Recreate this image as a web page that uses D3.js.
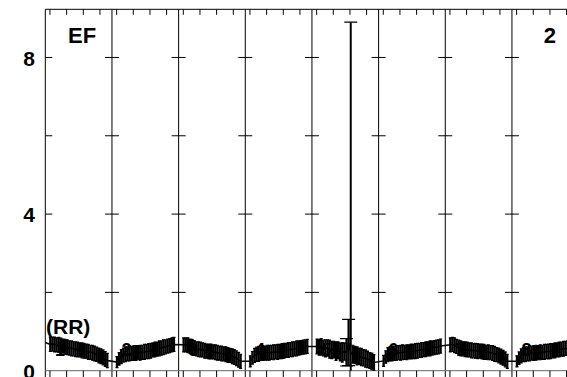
<!DOCTYPE html>
<html><head><meta charset="utf-8">
<script src="https://cdn.jsdelivr.net/npm/d3@7"></script>
<style>html,body{margin:0;padding:0;background:#fff;}svg{display:block;}</style>
</head><body>
<svg id="c" width="567" height="377"></svg>
<script>
// ---- data ----
const segmentLabels = ["1","2","3","4","5","6","7","8"];
const phase = [0.075,0.107,0.139,0.170,0.202,0.234,0.265,0.297,0.329,0.360,0.392,0.424,0.455,0.487,0.519,0.550,0.582,0.614,0.645,0.677,0.709,0.740,0.772,0.804,0.835,0.867,0.899,0.930];
const seg1 = [0.67,0.68,0.67,0.66,0.66,0.64,0.63,0.61,0.60,0.58,0.57,0.56,0.55,0.54,0.53,0.52,0.51,0.50,0.48,0.47,0.46,0.44,0.42,0.39,0.37,0.34,0.30,0.26];
const seg2 = [0.22,0.30,0.36,0.40,0.42,0.43,0.44,0.44,0.45,0.45,0.46,0.46,0.47,0.48,0.49,0.50,0.51,0.53,0.54,0.55,0.57,0.58,0.60,0.61,0.63,0.64,0.66,0.67];
const seg3 = [0.66,0.66,0.65,0.63,0.61,0.58,0.56,0.55,0.54,0.53,0.51,0.50,0.49,0.49,0.48,0.47,0.46,0.45,0.44,0.43,0.42,0.40,0.39,0.37,0.35,0.32,0.28,0.24];
const seg4 = [0.24,0.33,0.39,0.42,0.43,0.44,0.45,0.45,0.46,0.46,0.47,0.47,0.48,0.48,0.49,0.50,0.51,0.52,0.53,0.54,0.55,0.56,0.57,0.58,0.59,0.60,0.61,0.62];
const seg5 = [0.62,0.60,0.61,0.58,0.57,0.58,0.55,0.53,0.54,0.50,0.52,0.48,0.47,0.49,0.47,0.72,0.45,0.42,0.40,0.38,0.37,0.35,0.33,0.31,0.29,0.26,0.24,0.21];
const seg6 = [0.25,0.35,0.41,0.43,0.44,0.44,0.45,0.46,0.46,0.47,0.47,0.47,0.48,0.49,0.49,0.50,0.51,0.52,0.53,0.54,0.55,0.56,0.57,0.58,0.59,0.60,0.61,0.63];
const seg7 = [0.66,0.67,0.65,0.62,0.59,0.57,0.56,0.55,0.54,0.53,0.52,0.51,0.51,0.50,0.50,0.49,0.48,0.47,0.47,0.46,0.45,0.43,0.41,0.39,0.36,0.33,0.29,0.24];
const seg8 = [0.24,0.32,0.38,0.41,0.42,0.43,0.44,0.45,0.45,0.46,0.46,0.47,0.47,0.48,0.49,0.49,0.50,0.51,0.52,0.53,0.54,0.55,0.56,0.57,0.58,0.60,0.61,0.62];
const errOdd  = [0.18,0.18,0.19,0.18,0.19,0.19,0.18,0.19,0.19,0.18,0.19,0.18,0.19,0.19,0.18,0.19,0.19,0.18,0.19,0.18,0.19,0.19,0.18,0.19,0.19,0.19,0.19,0.18];
const errEven = [0.14,0.16,0.18,0.18,0.19,0.18,0.19,0.18,0.19,0.19,0.18,0.19,0.18,0.19,0.18,0.19,0.19,0.18,0.19,0.18,0.19,0.18,0.19,0.18,0.18,0.18,0.18,0.18];
const err5    = [0.19,0.20,0.21,0.20,0.22,0.21,0.23,0.22,0.21,0.24,0.22,0.23,0.25,0.22,0.35,0.59,8.45,0.23,0.22,0.23,0.21,0.22,0.21,0.22,0.21,0.20,0.21,0.20];
const leadValue = 0.72;
const yTickValues = [2,4,6,8];
const yTickLabels = [0,4,8];
const panelText = {left:"EF", right:"2", sub:"(RR)"};

// ---- layout ----
const W = 567, H = 377;
const svg = d3.select("#c");
const x = d3.scaleLinear().domain([0,8]).range([45.3, 578.6]);
const y = d3.scaleLinear().domain([0,9.23]).range([370.7, 9.3]);
const yTop = y(9.23), yBot = y(0);

const segs = [seg1,seg2,seg3,seg4,seg5,seg6,seg7,seg8];
const errs = [errOdd,errEven,errOdd,errEven,err5,errEven,errOdd,errEven];
const pts = [];
segs.forEach((s,k)=> s.forEach((v,i)=> pts.push({x:k+phase[i], v, e:errs[k][i]})));

svg.append("defs").append("clipPath").attr("id","clip")
  .append("rect").attr("x",x(0)).attr("y",yTop).attr("width",W-x(0)+5).attr("height",yBot-yTop);

// panel separator lines
const g0 = svg.append("g");
g0.selectAll("line.sep").data(d3.range(1,8)).join("line")
  .attr("x1",d=>x(d)).attr("x2",d=>x(d)).attr("y1",yTop).attr("y2",H)
  .attr("stroke","#000").attr("stroke-width",1);
d3.range(1,8).forEach(k=>{
  g0.append("g").selectAll("line").data(yTickValues).join("line")
    .attr("x1",x(k)-7).attr("x2",x(k)+7).attr("y1",d=>y(d)).attr("y2",d=>y(d))
    .attr("stroke","#000").attr("stroke-width",1);
});

// left axis
svg.append("line").attr("x1",x(0)).attr("x2",x(0)).attr("y1",yTop).attr("y2",H).attr("stroke","#000");
svg.selectAll("line.yt").data(yTickValues).join("line").attr("class","yt")
  .attr("x1",x(0)).attr("x2",x(0)+7).attr("y1",d=>y(d)).attr("y2",d=>y(d)).attr("stroke","#000");
svg.selectAll("text.yl").data(yTickLabels).join("text").attr("class","yl")
  .attr("x",35).attr("y",d=>y(d)+2.5).attr("text-anchor","end").attr("dominant-baseline","middle")
  .attr("font-family","Liberation Sans, Arial, sans-serif").attr("font-weight","bold").attr("font-size",21)
  .text(d=>d);

// top & bottom axes
const minor = d3.range(0.07, 8.0, 0.25);
svg.append("line").attr("x1",x(0)).attr("x2",W).attr("y1",yTop).attr("y2",yTop).attr("stroke","#000");
svg.selectAll("line.tt").data(minor).join("line").attr("class","tt")
  .attr("x1",d=>x(d)).attr("x2",d=>x(d)).attr("y1",yTop).attr("y2",yTop+5.5).attr("stroke","#000");
svg.append("line").attr("x1",x(0)).attr("x2",W).attr("y1",yBot).attr("y2",yBot).attr("stroke","#666");
svg.selectAll("line.bt").data(minor).join("line").attr("class","bt")
  .attr("x1",d=>x(d)).attr("x2",d=>x(d)).attr("y1",yBot).attr("y2",H).attr("stroke","#000");

// segment labels
svg.selectAll("text.sl").data(segmentLabels).join("text").attr("class","sl")
  .attr("x",(d,i)=>x(i+0.22)).attr("y",356).attr("text-anchor","middle")
  .attr("font-family","Liberation Sans, Arial, sans-serif").attr("font-weight","bold").attr("font-size",18)
  .text(d=>d);

// data
const gd = svg.append("g").attr("clip-path","url(#clip)");
const linePts = [{x:0, v:leadValue}].concat(pts);
gd.append("path").datum(linePts)
  .attr("d", d3.line().x(d=>x(d.x)).y(d=>y(d.v)))
  .attr("fill","none").attr("stroke","#000").attr("stroke-width",1.5);
const eb = gd.selectAll("g.eb").data(pts).join("g");
eb.append("line").attr("x1",d=>x(d.x)).attr("x2",d=>x(d.x)).attr("y1",d=>y(d.v-d.e)).attr("y2",d=>y(d.v+d.e))
  .attr("stroke","#000").attr("stroke-width",d=>d.e>1?2:2.3);
eb.append("line").attr("x1",d=>x(d.x)-(d.e>0.3?6.5:1.5)).attr("x2",d=>x(d.x)+(d.e>0.3?6.5:1.5)).attr("y1",d=>y(d.v+d.e)).attr("y2",d=>y(d.v+d.e))
  .attr("stroke","#000").attr("stroke-width",1.2);
eb.append("line").attr("x1",d=>x(d.x)-(d.e>0.3?6.5:1.5)).attr("x2",d=>x(d.x)+(d.e>0.3?6.5:1.5)).attr("y1",d=>y(d.v-d.e)).attr("y2",d=>y(d.v-d.e))
  .attr("stroke","#000").attr("stroke-width",1.2);

// panel texts
const tf = s=>s.attr("font-family","Liberation Sans, Arial, sans-serif").attr("font-weight","bold");
tf(svg.append("text").attr("x",68).attr("y",43).attr("font-size",22).text(panelText.left));
tf(svg.append("text").attr("x",556).attr("y",43).attr("text-anchor","end").attr("font-size",22).text(panelText.right));
tf(svg.append("text").attr("x",46).attr("y",334).attr("font-size",21).text(panelText.sub));
</script>
</body></html>
